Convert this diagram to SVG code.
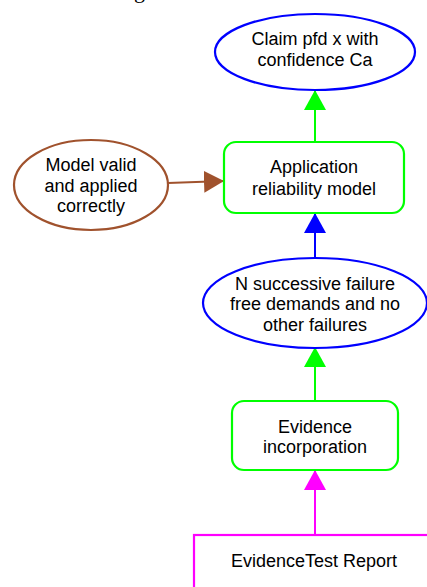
<svg xmlns="http://www.w3.org/2000/svg" width="427" height="587" viewBox="0 0 427 587">
<defs>
<style>
text{font-family:"Liberation Sans",Arial,sans-serif;font-size:18px;fill:#000;text-anchor:middle}
.title{font-family:"Liberation Serif","Times New Roman",serif;font-size:22px;text-anchor:start}
.n{fill:#fff;stroke-width:2.2}
.c{fill:none;stroke-width:2}
</style>
<marker id="ag" viewBox="0 0 20 22" refX="20" refY="11" markerWidth="20" markerHeight="22" markerUnits="userSpaceOnUse" orient="auto"><path d="M0,0L20,11L0,22Z" fill="#00ff00"/></marker>
<marker id="ab" viewBox="0 0 20 22" refX="20" refY="11" markerWidth="20" markerHeight="22" markerUnits="userSpaceOnUse" orient="auto"><path d="M0,0L20,11L0,22Z" fill="#0000ff"/></marker>
<marker id="am" viewBox="0 0 20 22" refX="20" refY="11" markerWidth="20" markerHeight="22" markerUnits="userSpaceOnUse" orient="auto"><path d="M0,0L20,11L0,22Z" fill="#ff00ff"/></marker>
<marker id="ar" viewBox="0 0 20 22" refX="20" refY="11" markerWidth="20" markerHeight="22" markerUnits="userSpaceOnUse" orient="auto"><path d="M0,0L20,11L0,22Z" fill="#a0522d"/></marker>
</defs>
<rect width="427" height="587" fill="#fff"/>
<text class="title" x="134" y="-2">g</text>
<g id="connectors">
<path class="c" d="M315,142V90" stroke="#00ff00" marker-end="url(#ag)"/>
<path class="c" d="M168,183L224,181" stroke="#a0522d" marker-end="url(#ar)"/>
<path class="c" d="M315,258V213" stroke="#0000ff" marker-end="url(#ab)"/>
<path class="c" d="M315,401V347" stroke="#00ff00" marker-end="url(#ag)"/>
<path class="c" d="M315,535V470" stroke="#ff00ff" marker-end="url(#am)"/>
</g>
<g id="claim">
<ellipse class="n" cx="315" cy="52" rx="100" ry="38" stroke="#0000ff" stroke-width="2.5"/>
<text x="315" y="45">Claim pfd x with</text>
<text x="315" y="66">confidence Ca</text>
</g>
<g id="model">
<ellipse class="n" cx="91" cy="185" rx="77" ry="45" stroke="#a0522d"/>
<text x="91" y="171">Model valid</text>
<text x="91" y="192">and applied</text>
<text x="91" y="212">correctly</text>
</g>
<g id="application">
<rect class="n" x="224" y="142" width="180" height="71" rx="12" stroke="#00ff00"/>
<text x="314" y="173">Application</text>
<text x="314" y="195">reliability model</text>
</g>
<g id="successive">
<ellipse class="n" cx="315" cy="303" rx="112" ry="45" stroke="#0000ff" stroke-width="2.5"/>
<text x="315" y="290">N successive failure</text>
<text x="315" y="310">free demands and no</text>
<text x="315" y="331">other failures</text>
</g>
<g id="evidence">
<rect class="n" x="232" y="401" width="166" height="69" rx="12" stroke="#00ff00"/>
<text x="315" y="433">Evidence</text>
<text x="315" y="453">incorporation</text>
</g>
<g id="report">
<rect class="n" x="194" y="535" width="240" height="60" stroke="#ff00ff"/>
<text x="314" y="567">EvidenceTest Report</text>
</g>
</svg>
